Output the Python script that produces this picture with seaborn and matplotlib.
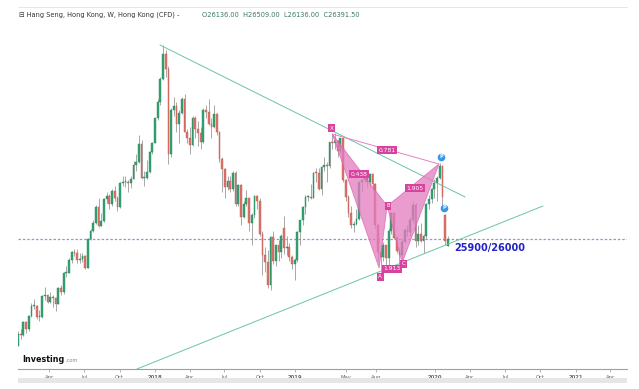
import pandas as pd
import matplotlib.pyplot as plt
import matplotlib.dates as mdates
import seaborn as sns
from matplotlib.patches import Rectangle

# Weekly Hang Seng CFD candles, Jan 2017 - Feb 2020
opens = [
    22000, 22504, 22937, 22885, 23374, 23129, 23574, 23965, 23966, 23552, 23568, 24310, 24358,
    24111, 24267, 24262, 24042, 24615, 24476, 25156, 25174, 25639, 25924, 25878, 25626, 25670,
    25765, 25341, 26389, 26706, 26979, 27563, 26883, 27047, 27848, 27953, 27668, 28161, 27881,
    27554, 28458, 28476, 28487, 28439, 28604, 29120, 29199, 29866, 28639, 28640, 28848, 29578,
    29919, 30815, 31413, 32255, 33154, 32601, 29507, 31115, 31267, 30583, 30996, 31502, 30309,
    30093, 29844, 30808, 30418, 30281, 29927, 31122, 31048, 30588, 30492, 30958, 30309, 29338,
    28955, 28316, 28525, 28224, 28804, 27676, 28366, 27213, 27672, 27888, 26973, 27286, 27953,
    27788, 26572, 25801, 25561, 24717, 26486, 25601, 26183, 25927, 26800, 26063, 26094, 25753,
    25504, 25626, 26667, 27090, 27569, 27931, 27946, 27901, 28816, 28812, 28228, 29012, 29113,
    29051, 29936, 29909, 29963, 29605, 30082, 28550, 27946, 27353, 26901, 26965, 27118, 28473,
    28543, 28775, 28471, 28765, 28397, 26919, 25939, 25734, 26179, 25725, 26691, 27353, 26435,
    25955, 25821, 26308, 26720, 26667, 27101, 27651, 26327, 26595, 26346, 26498, 27688, 27871,
    28225, 28452, 28638, 29056, 27280, 26136,
]
highs = [
    22600, 23040, 23100, 23410, 23420, 23620, 24070, 24200, 24000, 23820, 24340, 24650, 24400,
    24480, 24340, 24300, 24650, 24720, 25200, 25420, 25700, 25960, 26050, 26030, 25900, 25890,
    25800, 26420, 26780, 27080, 27650, 27900, 27350, 27880, 28100, 28050, 28210, 28350, 27960,
    28500, 28700, 28700, 28540, 28700, 29250, 29500, 30200, 30000, 28900, 29300, 29600, 29950,
    30830, 31500, 32330, 33484, 33300, 32700, 31200, 31600, 31400, 31100, 31600, 31700, 30400,
    30500, 30900, 30900, 30700, 30500, 31200, 31300, 31500, 30800, 31300, 31000, 30350, 29400,
    29000, 28700, 28700, 28900, 28900, 28400, 28400, 27800, 28200, 27900, 27350, 28000, 28000,
    27900, 26700, 26100, 26000, 26500, 26700, 26200, 26350, 26600, 27250, 26500, 26250, 25800,
    25700, 26700, 27100, 27600, 28000, 28000, 28400, 28850, 29000, 29000, 29050, 29400, 29200,
    29950, 30250, 30280, 30000, 30100, 30100, 28600, 28000, 27600, 27050, 27500, 28500, 28600,
    28900, 28800, 28800, 28800, 28450, 26950, 26100, 26300, 26200, 26800, 27400, 27400, 26500,
    26100, 26400, 26800, 26900, 27200, 27800, 27700, 26900, 27000, 26600, 27700, 28000, 28250,
    28600, 28700, 29175, 29100, 27300, 26509,
]
lows = [
    21880, 22480, 22750, 22870, 22980, 23040, 23560, 23830, 23490, 23420, 23520, 24180, 24060,
    24050, 23920, 23790, 24030, 24350, 24400, 25000, 25150, 25530, 25770, 25520, 25540, 25560,
    25300, 25330, 26350, 26650, 26950, 26850, 26880, 27020, 27730, 27500, 27620, 27800, 27430,
    27530, 28340, 28300, 28100, 28250, 28580, 28900, 29180, 28600, 28350, 28600, 28800, 29500,
    29900, 30750, 31300, 32200, 32300, 29129, 29400, 30900, 30300, 29900, 30950, 30300, 29900,
    29500, 29800, 30100, 29800, 29700, 29900, 30800, 30550, 30100, 30450, 30200, 29200, 28100,
    27900, 28200, 28100, 28150, 27600, 27600, 26900, 27150, 27600, 26700, 26200, 27150, 27500,
    26500, 25100, 25200, 24600, 24540, 25500, 25400, 25600, 25700, 25850, 25800, 25600, 25300,
    24896, 25550, 26200, 26900, 27300, 27800, 27850, 27900, 28500, 28200, 28000, 28900, 28500,
    29000, 29700, 29700, 29400, 29550, 28500, 27800, 27200, 26800, 26670, 26900, 27100, 28100,
    28500, 28300, 28300, 28200, 26800, 25600, 25064, 25600, 25300, 25400, 26600, 26400, 25900,
    25280, 25500, 26300, 26500, 26500, 27000, 26100, 26200, 26300, 25900, 26400, 27500, 27700,
    27900, 27800, 28600, 27600, 26200, 26136,
]
closes = [
    22504, 22937, 22885, 23374, 23129, 23574, 23965, 23966, 23552, 23568, 24310, 24358, 24111,
    24267, 24262, 24042, 24615, 24476, 25156, 25174, 25639, 25924, 25878, 25626, 25670, 25765,
    25341, 26389, 26706, 26979, 27563, 26883, 27047, 27848, 27953, 27668, 28161, 27881, 27554,
    28458, 28476, 28487, 28439, 28604, 29120, 29199, 29866, 28639, 28640, 28848, 29578, 29919,
    30815, 31413, 32255, 33154, 32601, 29507, 31115, 31267, 30583, 30996, 31502, 30309, 30093,
    29844, 30808, 30418, 30281, 29927, 31122, 31048, 30588, 30492, 30958, 30309, 29338, 28955,
    28316, 28525, 28224, 28804, 27676, 28366, 27213, 27672, 27888, 26973, 27286, 27953, 27788,
    26572, 25801, 25561, 24717, 26486, 25601, 26183, 25927, 26506, 26063, 26094, 25753, 25504,
    25626, 26667, 27090, 27569, 27931, 27946, 27901, 28816, 28812, 28228, 29012, 29113, 29051,
    29936, 29909, 29963, 29605, 30082, 28550, 27946, 27353, 26901, 26965, 27118, 28473, 28543,
    28775, 28471, 28765, 28397, 26919, 25939, 25734, 26179, 25725, 26691, 27353, 26435, 25955,
    25821, 26308, 26720, 26667, 27101, 27651, 26327, 26595, 26346, 26498, 27688, 27871, 28225,
    28452, 28638, 29056, 27950, 26313, 26391.5,
]
week_start = "2017-01-02"

# trend lines (start / end)
upper_line_dates = ["2018-01-14", "2020-03-19"]
upper_line_prices = [33483, 27935]
lower_line_dates = ["2017-11-15", "2020-10-08"]
lower_line_prices = [21656, 27606]

# harmonic (XABCD) pattern points
pattern_names = ["X", "A", "B", "C", "D"]
pattern_dates = ["2019-04-08", "2019-08-08", "2019-08-29", "2019-10-07", "2020-01-11"]
pattern_prices = [30234, 25343, 27606, 25526, 29139]

point_label_dates = ["2019-04-06", "2019-08-11", "2019-08-31", "2019-10-10"]
point_label_prices = [30453, 25015, 27606, 25489]

ratio_labels = ["0.781", "0.438", "1.905", "1.913"]
ratio_dates = ["2019-08-29", "2019-06-17", "2019-11-10", "2019-09-11"]
ratio_prices = [29650, 28774, 28263, 25307]

p_marker_dates = ["2020-01-17", "2020-01-24"]
p_marker_prices = [29395, 27533]

last_price = 26391.5
target_text = "25900/26000"

tick_dates = ["2017-04-01", "2017-07-01", "2017-10-01", "2018-01-01", "2018-04-01",
              "2018-07-01", "2018-10-01", "2019-01-01", "2019-05-13", "2019-08-01",
              "2020-01-01", "2020-04-01", "2020-07-01", "2020-10-01", "2021-01-01",
              "2021-04-01"]
tick_labels = ["Apr", "Jul", "Oct", "2018", "Apr", "Jul", "Oct", "2019", "May", "Aug",
               "2020", "Apr", "Jul", "Oct", "2021", "Apr"]

sns.set_theme(style="white")
plt.rcParams["font.family"] = ["DejaVu Sans"]

df = pd.DataFrame({"open": opens, "high": highs, "low": lows, "close": closes})
df["date"] = pd.date_range(week_start, periods=len(df), freq="W-MON")
df["up"] = df["close"] >= df["open"]

fig = plt.figure(figsize=(6.39, 3.89), dpi=100)
ax = fig.add_axes([18 / 639, 20 / 389, 609 / 639, 362 / 389])

green, red = "#35a374", "#dc756b"
green_edge, red_edge = "#23885c", "#c55850"
xd = mdates.date2num(df["date"])
ax.vlines(xd, df["low"], df["high"], color="#9a9a9a", lw=0.6, zorder=2)
body_bottom = df[["open", "close"]].min(axis=1)
body_h = (df["close"] - df["open"]).abs().clip(lower=40)
ax.bar(xd, body_h, bottom=body_bottom, width=4.6,
       color=[green if u else red for u in df["up"]],
       edgecolor=[green_edge if u else red_edge for u in df["up"]],
       linewidth=0.3, zorder=3)

# trend lines
trend = pd.DataFrame({
    "date": pd.to_datetime(upper_line_dates + lower_line_dates),
    "price": upper_line_prices + lower_line_prices,
    "line": ["upper", "upper", "lower", "lower"],
})
trend["x"] = mdates.date2num(trend["date"])
sns.lineplot(data=trend, x="x", y="price", units="line", estimator=None,
             color="#6cc3a7", lw=0.7, ax=ax, zorder=4)

# pattern triangles
pd_x = mdates.date2num(pd.to_datetime(pattern_dates))
ax.fill(pd_x[:3], pattern_prices[:3], color="#e57bbf", alpha=0.75, lw=0.6,
        ec="#d95fae", zorder=5)
ax.fill(pd_x[2:], pattern_prices[2:], color="#e57bbf", alpha=0.75, lw=0.6,
        ec="#d95fae", zorder=5)
ax.plot([pd_x[0], pd_x[4]], [pattern_prices[0], pattern_prices[4]],
        color="#e680c4", lw=0.7, zorder=5)

box = dict(boxstyle="square,pad=0.25", fc="#d8439f", ec="none")
lx = mdates.date2num(pd.to_datetime(point_label_dates))
for name, x, y in zip(pattern_names[:4], lx, point_label_prices):
    ax.text(x, y, name, color="white", fontsize=4, ha="center", va="center",
            bbox=box, zorder=7)
rx = mdates.date2num(pd.to_datetime(ratio_dates))
for lab, x, y in zip(ratio_labels, rx, ratio_prices):
    ax.text(x, y, lab, color="white", fontsize=4.3, ha="center", va="center",
            bbox=box, zorder=7)

px = mdates.date2num(pd.to_datetime(p_marker_dates))
ax.scatter(px, p_marker_prices, s=30, color="#3597e8", zorder=8, lw=0)
for x, y in zip(px, p_marker_prices):
    ax.text(x, y, "P", color="white", fontsize=3.6, ha="center", va="center",
            fontweight="bold", zorder=9)

# last price line + target
ax.axhline(last_price, color="#8c95f0", lw=0.9, ls=(0, (2, 1.5)), zorder=1)
ax.text(mdates.date2num(pd.Timestamp("2020-02-20")), 26073, target_text,
        color="#2222c8", fontsize=7, fontweight="bold", ha="left", va="center", zorder=9)

# axes
ax.set_xlim(mdates.date2num(pd.Timestamp("2017-01-09")),
            mdates.date2num(pd.Timestamp("2021-05-15")))
ax.set_ylim(21656, 34870)
ax.set_xlabel("")
ax.set_ylabel("")
ax.set_yticks([])
ax.set_xticks(mdates.date2num(pd.to_datetime(tick_dates)))
ax.set_xticklabels(tick_labels, fontsize=3.8, color="#666666")
for t in ax.get_xticklabels():
    if t.get_text().isdigit():
        t.set_fontweight("bold")
ax.tick_params(axis="x", length=2, width=0.5, color="#999999", pad=2, bottom=True)
for side in ["left", "right"]:
    ax.spines[side].set_visible(False)
ax.spines["bottom"].set_color("#a0a0a0")
ax.spines["bottom"].set_linewidth(0.8)
ax.spines["top"].set_color("#e2e2e2")
ax.spines["top"].set_linewidth(0.6)

# header
fig.text(19 / 639, 1 - 15 / 389, "\u229f Hang Seng, Hong Kong, W, Hong Kong (CFD) -",
         fontsize=4.8, color="#333333", va="center", ha="left")
fig.text(202 / 639, 1 - 15 / 389, "O26136.00  H26509.00  L26136.00  C26391.50",
         fontsize=4.8, color="#3d7a5e", va="center", ha="left")

# logo
fig.text(22 / 639, 1 - 359 / 389, "Investing", fontsize=5.8, fontweight="bold",
         color="#111111", va="center", ha="left")
fig.text(65 / 639, 1 - 360 / 389, ".com", fontsize=3.6, color="#888888",
         va="center", ha="left")

# scroll bar at bottom
fig.patches.append(Rectangle((18 / 639, 1 - 383 / 389), 609 / 639, 5 / 389,
                             transform=fig.transFigure, fc="#e6e6e6", ec="none"))

fig.savefig("out.png", dpi=100)
